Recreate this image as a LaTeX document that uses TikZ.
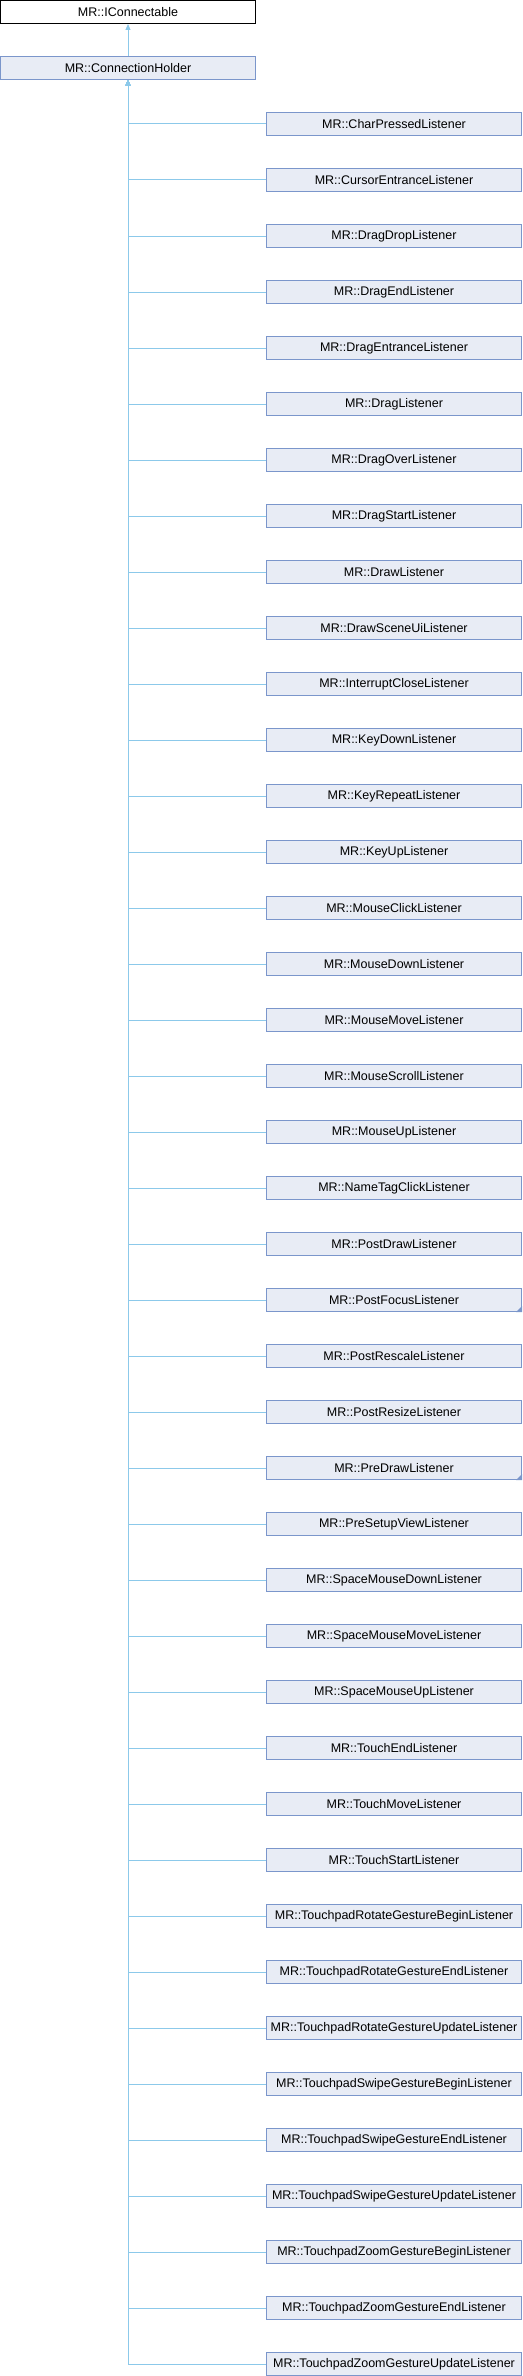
\documentclass[tikz,border=0pt]{standalone}
\usepackage{fontspec}
\setmainfont{Liberation Sans}
\usetikzlibrary{arrows.meta}
\definecolor{nodefill}{HTML}{E8ECF5}
\definecolor{nodeborder}{HTML}{7B96CB}
\definecolor{edgecol}{HTML}{8CC9EA}
\tikzset{
  cls/.style={draw=nodeborder, fill=nodefill, line width=1pt, minimum width=255pt, minimum height=23pt, inner sep=0pt, font=\fontsize{12.5}{14}\selectfont},
  rootcls/.style={cls, draw=black, fill=white},
  edge/.style={draw=edgecol, line width=1pt, -{Triangle[length=6pt,width=5pt,fill=edgecol]}},
  trunc/.style={fill=nodeborder, draw=none}
}
\begin{document}
\begin{tikzpicture}[x=1pt,y=-1pt]
\useasboundingbox (0,0) rectangle (522,2376);
\node[rootcls] (ic) at (128,12) {MR::IConnectable};
\node[cls] (ch) at (128,68) {MR::ConnectionHolder};
\draw[edge] (ch.north) -- (ic.south);
\foreach \name [count=\i from 0] in {CharPressedListener,CursorEntranceListener,DragDropListener,DragEndListener,DragEntranceListener,DragListener,DragOverListener,DragStartListener,DrawListener,DrawSceneUiListener,InterruptCloseListener,KeyDownListener,KeyRepeatListener,KeyUpListener,MouseClickListener,MouseDownListener,MouseMoveListener,MouseScrollListener,MouseUpListener,NameTagClickListener,PostDrawListener,PostFocusListener,PostRescaleListener,PostResizeListener,PreDrawListener,PreSetupViewListener,SpaceMouseDownListener,SpaceMouseMoveListener,SpaceMouseUpListener,TouchEndListener,TouchMoveListener,TouchStartListener,TouchpadRotateGestureBeginListener,TouchpadRotateGestureEndListener,TouchpadRotateGestureUpdateListener,TouchpadSwipeGestureBeginListener,TouchpadSwipeGestureEndListener,TouchpadSwipeGestureUpdateListener,TouchpadZoomGestureBeginListener,TouchpadZoomGestureEndListener,TouchpadZoomGestureUpdateListener}{
  \node[cls] (c\i) at (394,{124+56*\i}) {MR::\name};
  \draw[edge] (c\i.west) -| (ch.south);
}
\fill[trunc] (c21.south east) -- ++(0,-6) -- ++(-6,6) -- cycle;
\fill[trunc] (c24.south east) -- ++(0,-6) -- ++(-6,6) -- cycle;
\end{tikzpicture}
\end{document}
